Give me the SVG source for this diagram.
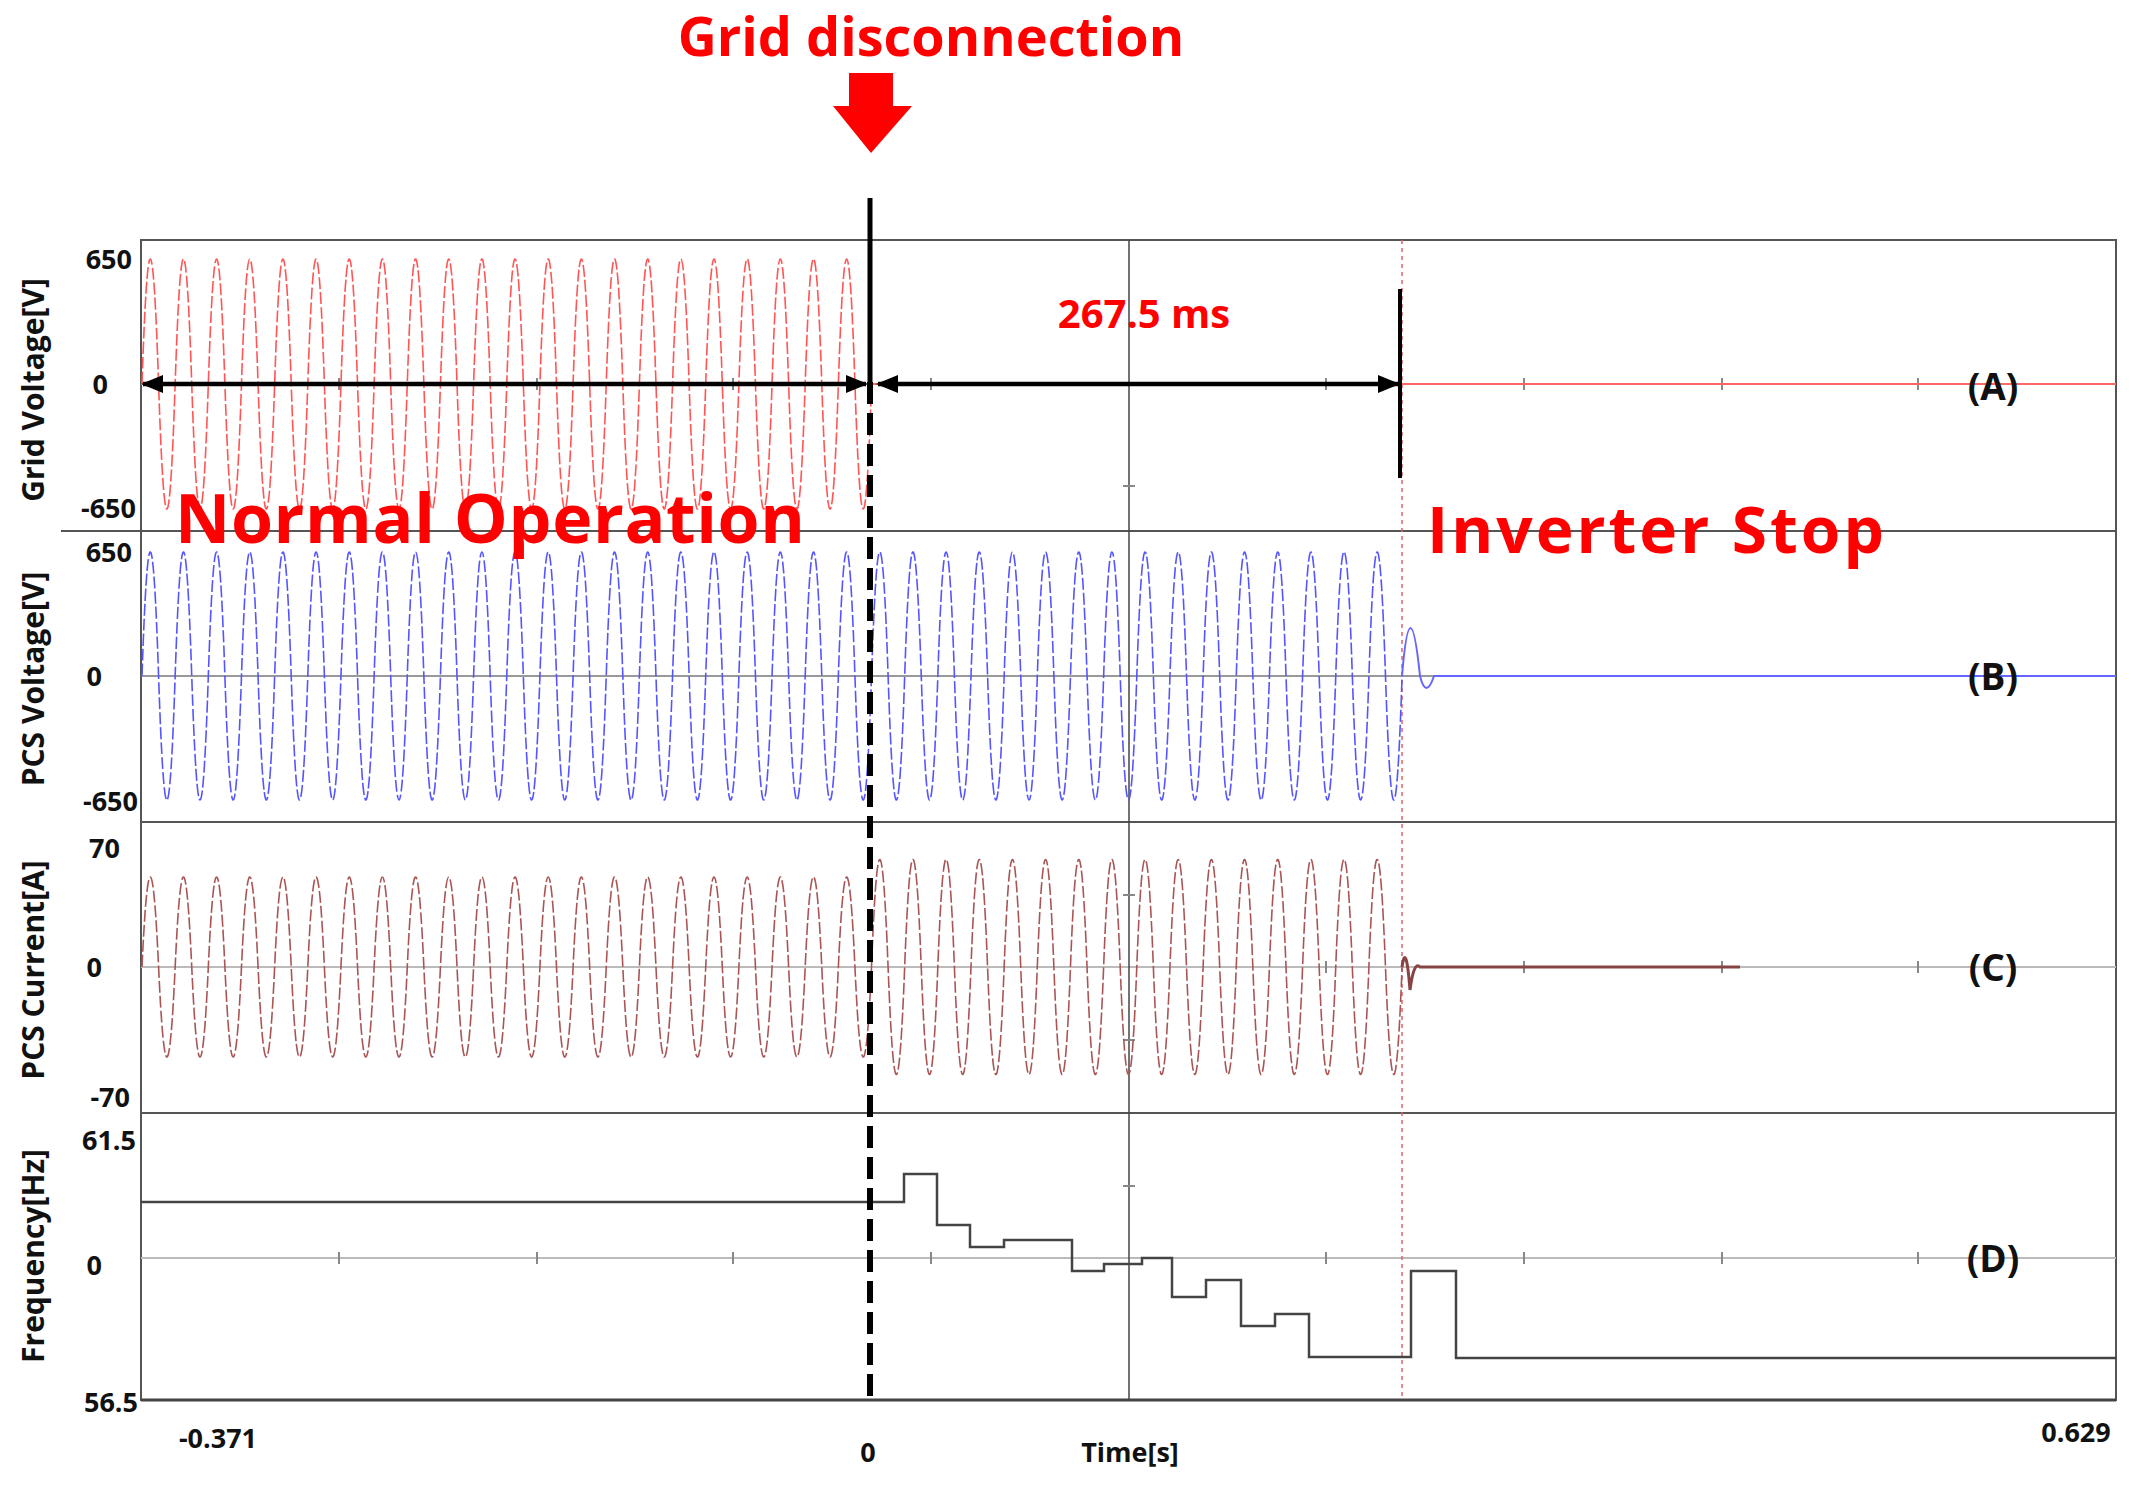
<svg xmlns="http://www.w3.org/2000/svg" width="2141" height="1487" viewBox="0 0 2141 1487">
<style>
.grid{stroke:#555;stroke-width:2;fill:none}
.zero{stroke:#bbb;stroke-width:2;fill:none}
.tick{stroke:#888;stroke-width:2}
.lab{font-family:"Open Sans","Noto Sans",sans-serif;font-weight:bold;fill:#111}
.red{font-family:"Open Sans","Noto Sans",sans-serif;font-weight:bold;fill:#f00}
.wave{fill:none;stroke-width:1.6;stroke-dasharray:12 3}
</style>
<defs>
<marker id="ah" viewBox="0 0 10 10" refX="9" refY="5" markerWidth="5" markerHeight="5" orient="auto-start-reverse"><path d="M0,1 L10,5 L0,9 z" fill="#000"/></marker>
</defs>
<rect width="2141" height="1487" fill="#fff"/>
<g id="axes">
<rect x="141" y="240" width="1975" height="1160" class="grid"/>
<line x1="61" y1="531" x2="2116" y2="531" class="grid"/>
<line x1="141" y1="822" x2="2116" y2="822" class="grid"/>
<line x1="141" y1="1113" x2="2116" y2="1113" class="grid"/>
<line x1="141" y1="1400" x2="2116" y2="1400" stroke="#444" stroke-width="3"/>
<line x1="141" y1="384" x2="2116" y2="384" class="zero"/>
<line x1="141" y1="676" x2="2116" y2="676" stroke="#777" stroke-width="1.5"/>
<line x1="141" y1="967" x2="2116" y2="967" class="zero"/>
<line x1="141" y1="1258" x2="2116" y2="1258" class="zero"/>
<line x1="1129" y1="240" x2="1129" y2="1400" stroke="#444" stroke-width="1.5"/>
<line x1="1402" y1="240" x2="1402" y2="1400" stroke="#d66" stroke-width="1.5" stroke-dasharray="4 4"/>
<g class="tick">
<path d="M339,1252v12M537,1252v12M733,1252v12M931,1252v12M1326,1252v12M1524,1252v12M1722,1252v12M1918,1252v12"/>
<path d="M339,378v12M537,378v12M733,378v12M931,378v12M1326,378v12M1524,378v12M1722,378v12M1918,378v12"/>
<path d="M1326,961v12M1524,961v12M1722,961v12M1918,961v12"/>
<path d="M1123,486h12M1123,895h12M1123,1040h12M1123,1186h12"/>
</g>
</g>
<g id="waves">
<path class="wave" stroke="#f55" d="M142,384 q8.29,-250 16.58,0 t16.58,0 t16.58,0 t16.58,0 t16.58,0 t16.58,0 t16.58,0 t16.58,0 t16.58,0 t16.58,0 t16.58,0 t16.58,0 t16.58,0 t16.58,0 t16.58,0 t16.58,0 t16.58,0 t16.58,0 t16.58,0 t16.58,0 t16.58,0 t16.58,0 t16.58,0 t16.58,0 t16.58,0 t16.58,0 t16.58,0 t16.58,0 t16.58,0 t16.58,0 t16.58,0 t16.58,0 t16.58,0 t16.58,0 t16.58,0 t16.58,0 t16.58,0 t16.58,0 t16.58,0 t16.58,0 t16.58,0 t16.58,0 t16.58,0 t16.58,0"/>
<line x1="870" y1="384" x2="2116" y2="384" stroke="#f66" stroke-width="2"/>
<path class="wave" stroke="#55f" d="M142,676 q8.29,-248 16.58,0 t16.58,0 t16.58,0 t16.58,0 t16.58,0 t16.58,0 t16.58,0 t16.58,0 t16.58,0 t16.58,0 t16.58,0 t16.58,0 t16.58,0 t16.58,0 t16.58,0 t16.58,0 t16.58,0 t16.58,0 t16.58,0 t16.58,0 t16.58,0 t16.58,0 t16.58,0 t16.58,0 t16.58,0 t16.58,0 t16.58,0 t16.58,0 t16.58,0 t16.58,0 t16.58,0 t16.58,0 t16.58,0 t16.58,0 t16.58,0 t16.58,0 t16.58,0 t16.58,0 t16.58,0 t16.58,0 t16.58,0 t16.58,0 t16.58,0 t16.58,0 t16.58,0 t16.58,0 t16.58,0 t16.58,0 t16.58,0 t16.58,0 t16.58,0 t16.58,0 t16.58,0 t16.58,0 t16.58,0 t16.58,0 t16.58,0 t16.58,0 t16.58,0 t16.58,0 t16.58,0 t16.58,0 t16.58,0 t16.58,0 t16.58,0 t16.58,0 t16.58,0 t16.58,0 t16.58,0 t16.58,0 t16.58,0 t16.58,0 t16.58,0 t16.58,0 t16.58,0 t16.58,0"/>
<path fill="none" stroke="#66f" stroke-width="2" d="M1402,676 Q1410,580 1420,676 Q1426,700 1434,676 L2116,676"/>
<path class="wave" stroke="#a55" d="M142,967 q8.29,-180 16.58,0 t16.58,0 t16.58,0 t16.58,0 t16.58,0 t16.58,0 t16.58,0 t16.58,0 t16.58,0 t16.58,0 t16.58,0 t16.58,0 t16.58,0 t16.58,0 t16.58,0 t16.58,0 t16.58,0 t16.58,0 t16.58,0 t16.58,0 t16.58,0 t16.58,0 t16.58,0 t16.58,0 t16.58,0 t16.58,0 t16.58,0 t16.58,0 t16.58,0 t16.58,0 t16.58,0 t16.58,0 t16.58,0 t16.58,0 t16.58,0 t16.58,0 t16.58,0 t16.58,0 t16.58,0 t16.58,0 t16.58,0 t16.58,0 t16.58,0 t16.58,0"/>
<path class="wave" stroke="#a55" d="M871.5,967 q8.29,-215 16.58,0 t16.58,0 t16.58,0 t16.58,0 t16.58,0 t16.58,0 t16.58,0 t16.58,0 t16.58,0 t16.58,0 t16.58,0 t16.58,0 t16.58,0 t16.58,0 t16.58,0 t16.58,0 t16.58,0 t16.58,0 t16.58,0 t16.58,0 t16.58,0 t16.58,0 t16.58,0 t16.58,0 t16.58,0 t16.58,0 t16.58,0 t16.58,0 t16.58,0 t16.58,0 t16.58,0 t16.58,0"/>
<path fill="none" stroke="#844" stroke-width="3" d="M1402,967 Q1406,940 1410,990 Q1414,960 1420,967 L1740,967"/>
<path fill="none" stroke="#444" stroke-width="2.5" d="M141,1202 H904 V1174 H937 V1225 H970 V1247 H1004 V1240 H1072 V1271 H1104 V1264 H1142 V1258 H1172 V1297 H1206 V1280 H1241 V1326 H1275 V1314 H1309 V1357 H1411 V1271 H1456 V1358 H2116"/>
</g>
<g id="markers">
<line x1="870" y1="198" x2="870" y2="382" stroke="#000" stroke-width="5"/>
<line x1="870" y1="382" x2="870" y2="1400" stroke="#000" stroke-width="6" stroke-dasharray="22 9"/>
<line x1="1400" y1="289" x2="1400" y2="478" stroke="#000" stroke-width="4"/>
<line x1="143" y1="384" x2="866" y2="384" stroke="#000" stroke-width="4.5" marker-start="url(#ah)" marker-end="url(#ah)"/>
<line x1="878" y1="384" x2="1398" y2="384" stroke="#000" stroke-width="4.5" marker-start="url(#ah)" marker-end="url(#ah)"/>
<path d="M849,73 H893 V106 H912 L871,153 L833,106 H849 Z" fill="#f00"/>
</g>
<g id="texts">
<text class="red" x="931" y="56" font-size="54" text-anchor="middle">Grid disconnection</text>
<text class="red" x="1144" y="328" font-size="40" text-anchor="middle">267.5 ms</text>
<text class="red" x="175" y="543" font-size="68" textLength="630">Normal Operation</text>
<text class="red" x="1427" y="553" font-size="64" textLength="457">Inverter Stop</text>
<g class="lab" font-size="37" text-anchor="middle">
<text x="1993" y="400">(A)</text><text x="1993" y="690">(B)</text><text x="1993" y="981">(C)</text><text x="1993" y="1272">(D)</text>
</g>
<g class="lab" font-size="30" text-anchor="middle">
<text transform="translate(44,390) rotate(-90)">Grid Voltage[V]</text>
<text transform="translate(44,679) rotate(-90)">PCS Voltage[V]</text>
<text transform="translate(44,970) rotate(-90)">PCS Current[A]</text>
<text transform="translate(44,1256) rotate(-90)">Frequency[Hz]</text>
</g>
<g class="lab" font-size="27" text-anchor="end">
<text x="132" y="269">650</text><text x="108" y="394">0</text><text x="136" y="518">-650</text>
<text x="132" y="562">650</text><text x="102" y="686">0</text><text x="138" y="811">-650</text>
<text x="120" y="858">70</text><text x="102" y="977">0</text><text x="130" y="1107">-70</text>
<text x="136" y="1150">61.5</text><text x="102" y="1275">0</text><text x="138" y="1412">56.5</text>
</g>
<g class="lab" font-size="27" text-anchor="middle">
<text x="218" y="1448">-0.371</text><text x="868" y="1462">0</text><text x="1130" y="1462">Time[s]</text><text x="2076" y="1442">0.629</text>
</g>
</g>
</svg>
